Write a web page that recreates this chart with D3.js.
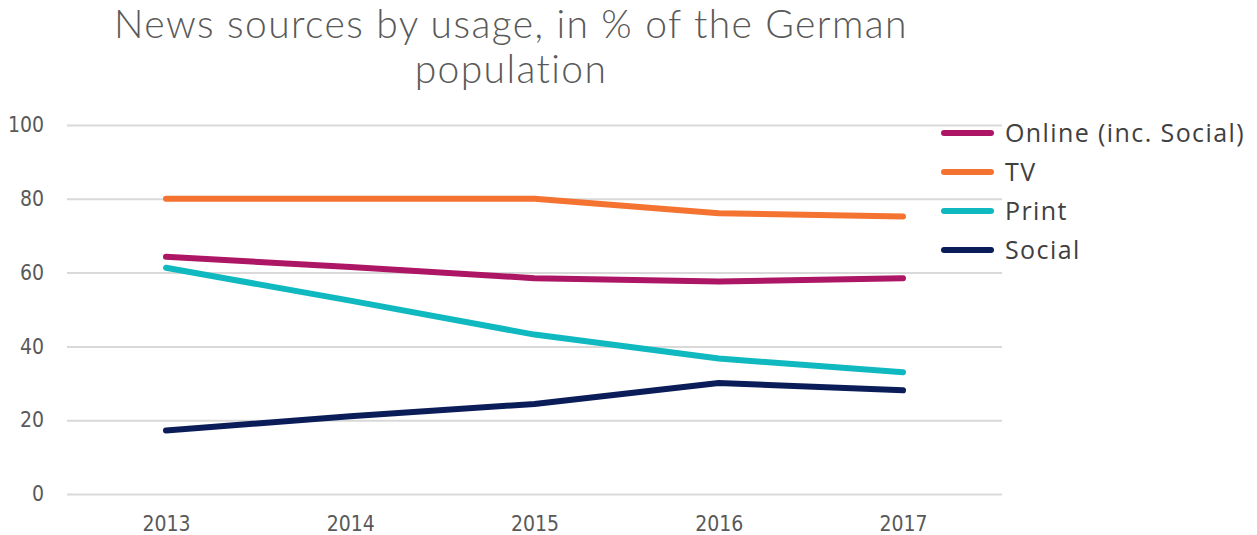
<!DOCTYPE html>
<head>
    <title>News sources by usage</title>
    <script src='https://d3js.org/d3.v7.min.js'></script>
    <style>
        body { margin: 0; background: #fff; }
        .tick text { font-family: 'Liberation Sans Narrow', 'DejaVu Sans Condensed', sans-serif; fill: #595959; }
    </style>
</head>
<body>
    <svg></svg>
</body>

<script>
    var vWidth = 1257;
    var vHeight = 535;

    // Data
    var years = ['2013', '2014', '2015', '2016', '2017'];
    var seriesNames = ['Online (inc. Social)', 'TV', 'Print', 'Social'];
    var online = [64.3, 61.5, 58.5, 57.6, 58.5];
    var tv = [80, 80, 80, 76.1, 75.2];
    var print = [61.3, 52.4, 43.2, 36.7, 33];
    var social = [17.2, 21.1, 24.4, 30.1, 28.1];
    var yTicks = [0, 20, 40, 60, 80, 100];
    var colors = ['#ad1565', '#f47331', '#10b9bf', '#0b1d59'];

    var svg = d3.select('svg').attr('width', vWidth).attr('height', vHeight);

    var x = d3.scalePoint().domain(years).range([166, 903]);
    var y = d3.scaleLinear().domain([0, 100]).range([494, 125]);

    // Gridlines + y labels
    var gy = svg.append('g')
        .attr('transform', 'translate(67,0)')
        .call(d3.axisLeft(y).tickValues(yTicks).tickSize(-935).tickPadding(23));
    gy.select('.domain').remove();
    gy.selectAll('.tick line').attr('stroke', '#d9d9d9').attr('stroke-width', 2);
    gy.selectAll('.tick text').style('font-size', '21px');

    // x labels
    var gx = svg.append('g')
        .attr('transform', 'translate(0,494)')
        .call(d3.axisBottom(x).tickSize(0).tickPadding(22));
    gx.select('.domain').remove();
    gx.selectAll('.tick text').style('font-size', '21px');

    // Lines
    var allSeries = [online, tv, print, social];
    var vLine = d3.line()
        .x(function (d, i) { return x(years[i]); })
        .y(function (d) { return y(d); });

    // draw in reverse so online sits on top of print
    [3, 2, 0, 1].forEach(function (k) {
        svg.append('path')
            .datum(allSeries[k])
            .attr('d', vLine)
            .attr('fill', 'none')
            .attr('stroke', colors[k])
            .attr('stroke-width', 6)
            .attr('stroke-linecap', 'round')
            .attr('stroke-linejoin', 'round');
    });

    // Legend
    var lg = svg.append('g').attr('transform', 'translate(941,133)');
    var items = lg.selectAll('g').data(seriesNames).enter().append('g')
        .attr('transform', function (d, i) { return 'translate(0,' + i * 39 + ')'; });
    items.append('line')
        .attr('x1', 3).attr('x2', 50)
        .attr('stroke', function (d, i) { return colors[i]; })
        .attr('stroke-width', 6)
        .attr('stroke-linecap', 'round');
    items.append('text')
        .attr('x', 64).attr('dy', '0.35em')
        .style('font-family', "'Open Sans', sans-serif")
        .style('font-size', '25px')
        .style('font-weight', 500)
        .style('letter-spacing', '1.4px')
        .style('fill', '#404040')
        .text(function (d) { return d; });

    // Title
    var title = svg.append('text')
        .attr('text-anchor', 'middle')
        .style('font-family', "'Lato', sans-serif")
        .style('font-weight', 300)
        .style('font-size', '39px')
        .style('letter-spacing', '1.4px')
        .style('fill', '#595959');
    title.append('tspan').attr('x', 511).attr('y', 38).text('News sources by usage, in % of the German');
    title.append('tspan').attr('x', 511).attr('y', 83).text('population');
</script>
